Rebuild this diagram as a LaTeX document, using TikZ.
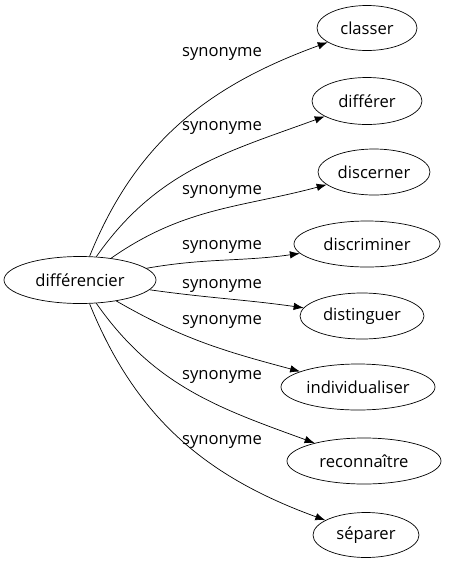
\documentclass[tikz,border=0pt]{standalone}
\usepackage{fontspec}
\setmainfont{Open Sans}
\usetikzlibrary{shapes.geometric,arrows.meta}
\begin{document}
\begin{tikzpicture}[x=1pt,y=-1pt,
  word/.style={draw,ellipse,line width=0.7pt,inner sep=0pt,font=\fontsize{16.6}{19}\selectfont},
  lab/.style={font=\fontsize{16.6}{19}\selectfont,inner sep=0pt},
  syn/.style={-{Latex[length=10pt,width=7.5pt]},line width=0.7pt}]
\useasboundingbox (0,0) rectangle (458,563);
\node[word,minimum width=152pt,minimum height=47pt] (d) at (80,280) {différencier};
\node[word,minimum width=100pt,minimum height=45pt] (c1) at (367,28) {classer};
\node[word,minimum width=110pt,minimum height=47pt] (c2) at (367,101) {différer};
\node[word,minimum width=112pt,minimum height=46pt] (c3) at (374,172) {discerner};
\node[word,minimum width=146pt,minimum height=46pt] (c4) at (367,244) {discriminer};
\node[word,minimum width=124pt,minimum height=46pt] (c5) at (362,316) {distinguer};
\node[word,minimum width=154pt,minimum height=46pt] (c6) at (358,387) {individualiser};
\node[word,minimum width=154pt,minimum height=46pt] (c7) at (364,461) {reconnaître};
\node[word,minimum width=106pt,minimum height=45pt] (c8) at (366,535) {séparer};
\node[lab] (l1) at (222,54) {synonyme};
\node[lab] (l2) at (222,128) {synonyme};
\node[lab] (l3) at (222,192) {synonyme};
\node[lab] (l4) at (222,247) {synonyme};
\node[lab] (l5) at (222,286) {synonyme};
\node[lab] (l6) at (222,322) {synonyme};
\node[lab] (l7) at (222,377) {synonyme};
\node[lab] (l8) at (222,442) {synonyme};
\draw[syn] (d) to[out=68,in=200] (c1);
\draw[syn] (d) to[out=55,in=200] (c2);
\draw[syn] (d) to[out=35,in=195] (c3);
\draw[syn] (d) to[out=10,in=188] (c4);
\draw[syn] (d) to[out=-8,in=172] (c5);
\draw[syn] (d) to[out=-30,in=165] (c6);
\draw[syn] (d) to[out=-55,in=160] (c7);
\draw[syn] (d) to[out=-68,in=160] (c8);
\end{tikzpicture}
\end{document}
